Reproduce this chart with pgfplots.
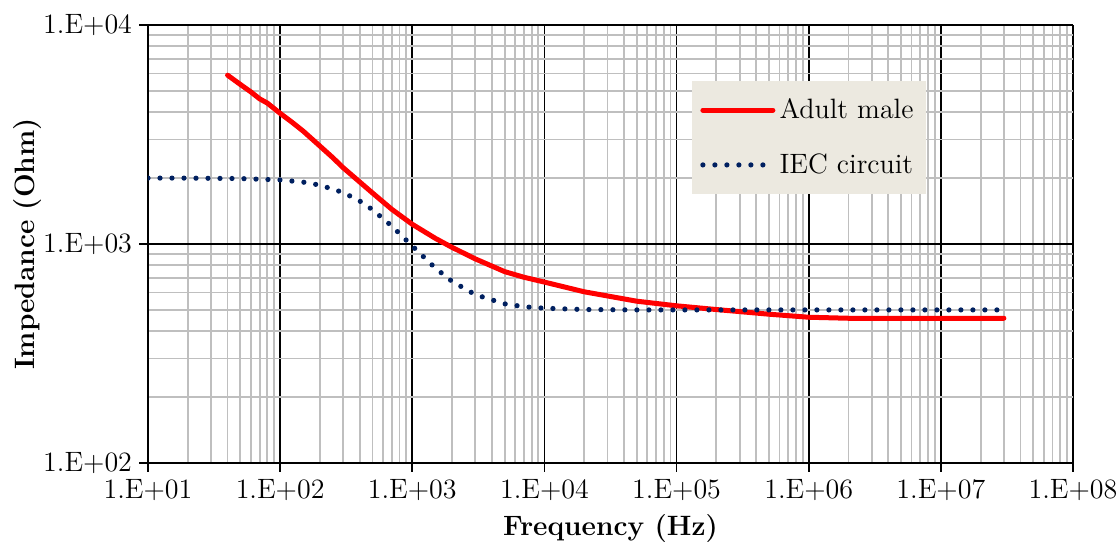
\documentclass[border=0pt]{standalone}
\usepackage{pgfplots}
\pgfplotsset{compat=1.18}

\definecolor{adultred}{RGB}{255,0,0}
\definecolor{iecblue}{RGB}{0,32,96}
\definecolor{legendbg}{RGB}{236,233,224}
\definecolor{minorgray}{RGB}{191,191,191}

\begin{document}
\begin{tikzpicture}
    % page size (1px = 0.5pt)
    \useasboundingbox (-74pt,-39.5pt) rectangle (485.5pt,231.5pt);
    \begin{loglogaxis}[
            at={(0,0)}, anchor=south west,
            scale only axis,
            width=462.5pt, height=219pt,
            xmin=1e1, xmax=1e8,
            ymin=1e2, ymax=1e4,
            font=\fontsize{14}{16}\selectfont,
            xtick={1e1,1e2,1e3,1e4,1e5,1e6,1e7,1e8},
            xticklabels={1.E+01,1.E+02,1.E+03,1.E+04,1.E+05,1.E+06,1.E+07,1.E+08},
            ytick={1e2,1e3,1e4},
            yticklabels={1.E+02,1.E+03,1.E+04},
            axis lines*=left,
            axis line style={black, line width=1pt},
            tick pos=left,
            tick align=outside,
            major tick length=4.5pt,
            minor tick length=0pt,
            major tick style={black, line width=0.9pt},
            grid=both,
            major grid style={black, line width=0.8pt},
            minor grid style={minorgray, line width=0.9pt},
            xlabel={\textbf{Frequency (Hz)}},
            ylabel={\textbf{Impedance (Ohm)}},
            xlabel style={yshift=0pt},
            ylabel style={yshift=-6pt},
            legend style={
                    at={(0.588,0.874)},
                    anchor=north west,
                    fill=legendbg,
                    draw=none,
                    inner xsep=4pt, inner ysep=7pt,
                    row sep=12pt,
                    font=\fontsize{14}{16}\selectfont,
                    legend cell align=left
                },
            legend image code/.code={
                    \draw[#1] (0cm,0cm) -- (35pt,0cm);
                },
        ]

        % Adult male
        \addplot[adultred, line width=2.5pt, line cap=round, line join=round] coordinates {
                (40, 5900) (50, 5350) (60, 4950) (70, 4600) (80, 4400)
                (100, 3950) (125, 3570) (150, 3270) (200, 2800) (250, 2480)
                (300, 2230) (400, 1920) (500, 1710) (700, 1440) (1000, 1230)
                (1500, 1060) (2000, 965) (3000, 855) (5000, 748) (7000, 705)
                (10000, 670) (20000, 605) (50000, 548) (100000, 522)
                (200000, 502) (500000, 478) (1000000, 463) (2000000, 458)
                (30000000, 458)
            };
        \addlegendentry{Adult male}

        % IEC circuit
        \addplot[iecblue, line width=2.6pt, line cap=round,
            dash pattern=on 0pt off 6pt] coordinates {
                (10, 2000) (20, 1999) (50, 1990) (100, 1961) (150, 1916)
                (200, 1857) (300, 1718) (400, 1572) (500, 1434) (700, 1207)
                (1000, 979) (1500, 775) (2000, 675) (3000, 587) (5000, 533)
                (7000, 517) (10000, 509) (20000, 502) (50000, 500)
                (1e5, 500) (1e6, 500) (1e7, 500) (3e7, 500)
            };
        \addlegendentry{IEC circuit}

    \end{loglogaxis}
\end{tikzpicture}
\end{document}
